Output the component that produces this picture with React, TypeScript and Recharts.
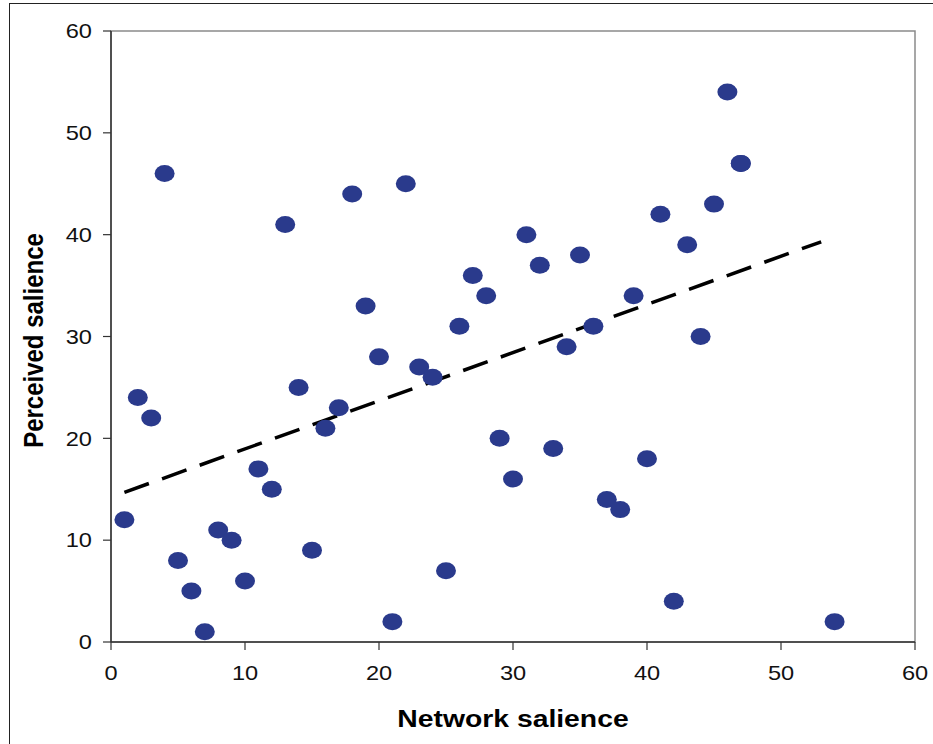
import React from 'react';
import { ScatterChart, Scatter, XAxis, YAxis, ReferenceLine, ReferenceArea, Label } from 'recharts';

const networkSalience = [1, 2, 3, 4, 5, 6, 7, 8, 9, 10, 11, 12, 13, 14, 15, 16, 17, 18, 19, 20, 21, 22, 23, 24, 25, 26, 27, 28, 29, 30, 31, 32, 33, 34, 35, 36, 37, 38, 39, 40, 41, 42, 43, 44, 45, 46, 47, 47, 54];
const perceivedSalience = [12, 24, 22, 46, 8, 5, 1, 11, 10, 6, 17, 15, 41, 25, 9, 21, 23, 44, 33, 28, 2, 45, 27, 26, 7, 31, 36, 34, 20, 16, 40, 37, 19, 29, 38, 31, 14, 13, 34, 18, 42, 4, 39, 30, 43, 54, 47, 47, 2];
const trendX = [1, 53];
const trendY = [14.7, 39.3];
const axisTicks = [0, 10, 20, 30, 40, 50, 60];

const points = networkSalience.map((x, i) => ({ x, y: perceivedSalience[i] }));
const FONT = 'Arial, "Liberation Sans", Helvetica, sans-serif';
const STRETCH = 1.18;
const DOT = '#2A3A8C';

const Ellipse = (props: any) => {
  const { cx, cy } = props;
  if (cx == null || cy == null) return null;
  return <ellipse cx={cx} cy={cy} rx={10} ry={8.5} fill={DOT} />;
};

const XTick = (props: any) => {
  const { x, y, payload } = props;
  return (
    <g transform={`translate(${x},${y})`}>
      <text x={0} y={0} dy="0.71em" textAnchor="middle" fontSize={20} fontFamily={FONT} fill="#111" transform={`scale(${STRETCH},1)`}>
        {payload.value}
      </text>
    </g>
  );
};

const YTick = (props: any) => {
  const { x, y, payload } = props;
  return (
    <g transform={`translate(${x},${y})`}>
      <text x={0} y={0} dy="0.36em" textAnchor="end" fontSize={20} fontFamily={FONT} fill="#111" transform={`scale(${STRETCH},1)`}>
        {payload.value}
      </text>
    </g>
  );
};

const XLabel = (props: any) => {
  const vb = props.viewBox || {};
  const cx = vb.x + vb.width / 2;
  const by = vb.y + vb.height + 25;
  return (
    <g transform={`translate(${cx},${by})`}>
      <text x={0} y={0} textAnchor="middle" fontSize={24} fontWeight="bold" fontFamily={FONT} fill="#000" transform={`scale(${STRETCH},1)`}>
        Network salience
      </text>
    </g>
  );
};

const YLabel = (props: any) => {
  const vb = props.viewBox || {};
  const cx = vb.x - 18;
  const cy = vb.y + vb.height / 2 + 4;
  return (
    <g transform={`translate(${cx},${cy}) rotate(-90)`}>
      <text x={0} y={0} dy="0.36em" textAnchor="middle" fontSize={24} fontWeight="bold" fontFamily={FONT} fill="#000" transform={`scale(1,${STRETCH})`}>
        Perceived salience
      </text>
    </g>
  );
};

export default function App() {
  return (
    <div style={{ position: 'absolute', left: 0, top: 0, width: 933, height: 744, overflow: 'hidden', background: '#fff' }}>
      <div style={{ position: 'absolute', left: 9, top: 3, width: 960, height: 800, borderLeft: '1.5px solid #222', borderTop: '1.5px solid #222', boxSizing: 'border-box' }} />
      <div style={{ position: 'absolute', left: 0, top: 0 }}>
        <ScatterChart width={933} height={744} margin={{ top: 31, right: 18, bottom: 42, left: 51 }}>
          <ReferenceArea x1={0} x2={60} y1={0} y2={60} fill="none" stroke="#8a8a8a" strokeWidth={1.5} ifOverflow="visible" />
          <XAxis
            type="number"
            dataKey="x"
            domain={[0, 60]}
            ticks={axisTicks}
            height={60}
            tickSize={8}
            tickMargin={16}
            tick={<XTick />}
            axisLine={{ stroke: '#333', strokeWidth: 1.5 }}
            tickLine={{ stroke: '#333', strokeWidth: 1.2 }}
            allowDataOverflow
          >
            <Label content={<XLabel />} />
          </XAxis>
          <YAxis
            type="number"
            dataKey="y"
            domain={[0, 60]}
            ticks={axisTicks}
            width={60}
            tickSize={8}
            tickMargin={11}
            tick={<YTick />}
            axisLine={{ stroke: '#333', strokeWidth: 1.5 }}
            tickLine={{ stroke: '#333', strokeWidth: 1.2 }}
            allowDataOverflow
          >
            <Label content={<YLabel />} />
          </YAxis>
          <ReferenceLine
            segment={[{ x: trendX[0], y: trendY[0] }, { x: trendX[1], y: trendY[1] }]}
            stroke="#000"
            strokeWidth={3.5}
            strokeDasharray="26 14"
            ifOverflow="visible"
          />
          <Scatter data={points} shape={<Ellipse />} isAnimationActive={false} />
        </ScatterChart>
      </div>
    </div>
  );
}
